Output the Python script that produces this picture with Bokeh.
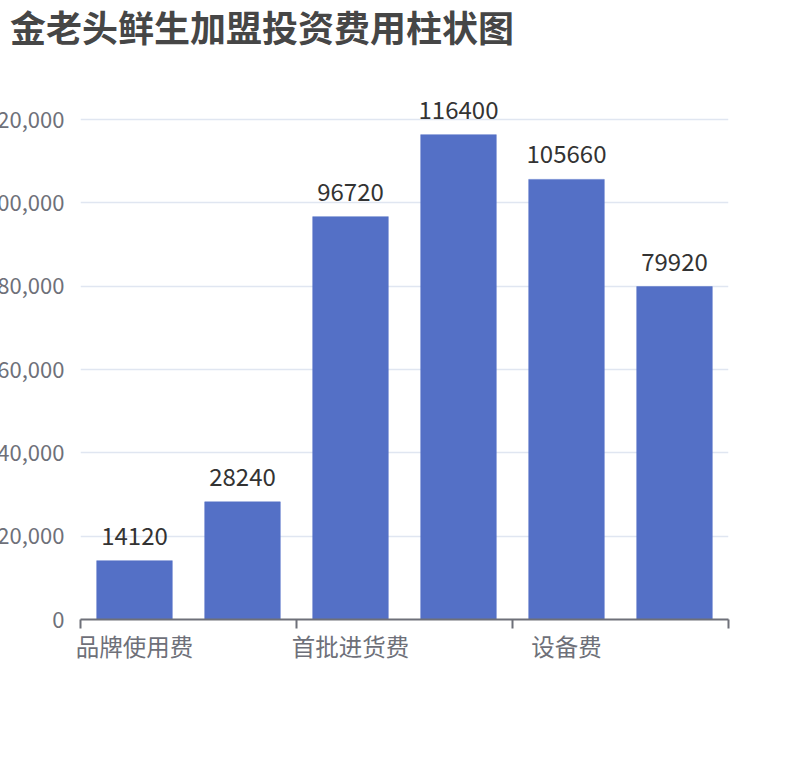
from bokeh.plotting import figure
from bokeh.models import (ColumnDataSource, FixedTicker, NumeralTickFormatter,
                          Range1d, LabelSet, Div)
from bokeh.layouts import column
from bokeh.core.properties import value
from bokeh.embed import file_html
from bokeh.resources import INLINE

title_text = "金老头鲜生加盟投资费用柱状图"
categories = ["品牌使用费", "加盟保证金", "首批进货费", "装修费", "设备费", "流动资金"]
values = [14120, 28240, 96720, 116400, 105660, 79920]
y_ticks = [0, 20000, 40000, 60000, 80000, 100000, 120000]
shown_labels = [0, 2, 4]   # categories whose label fits (the others are hidden)

FONT = "Noto Sans CJK SC"
CLIP = 30
TITLE_H = 52
Y_TOP = 127000   # frame extends a little above the last grid line so labels are not clipped

xs = [i + 0.5 for i in range(len(categories))]
src = ColumnDataSource(dict(x=xs, top=values, label=[str(v) for v in values]))

title = Div(text=title_text, width=810, height=TITLE_H, margin=(0, 0, 0, 0),
            styles={"font-family": FONT, "font-size": "36px", "font-weight": "bold",
                    "color": "#464646", "padding-left": "10px", "line-height": "normal",
                    "white-space": "nowrap"})

p = figure(width=810 + CLIP, height=760 - TITLE_H, output_backend="svg",
           toolbar_location=None,
           x_range=Range1d(0, len(categories)), y_range=Range1d(0, Y_TOP),
           min_border_left=80 + CLIP, min_border_right=82 - CLIP,
           min_border_top=90 - TITLE_H, min_border_bottom=141)
p.margin = (0, 0, 0, -CLIP)
p.outline_line_color = None
p.background_fill_color = "white"

p.vbar(x="x", top="top", width=0.7, bottom=0, source=src,
       fill_color="#5470c6", line_color="#5470c6", line_width=0.5)

labels = LabelSet(x="x", y="top", text="label", source=src, text_align="center",
                  text_baseline="bottom", y_offset=16, text_font_size="24px",
                  text_color="#333333", text_font=value(FONT))
p.add_layout(labels)

# y axis
p.yaxis.ticker = FixedTicker(ticks=y_ticks)
p.yaxis.formatter = NumeralTickFormatter(format="0,0")
p.yaxis.axis_line_color = None
p.yaxis.major_tick_line_color = None
p.yaxis.major_tick_out = 0
p.yaxis.major_tick_in = 0
p.yaxis.minor_tick_line_color = None
p.yaxis.major_label_standoff = 16
p.yaxis.major_label_text_font_size = "22px"
p.yaxis.major_label_text_color = "#6e7079"
p.yaxis.major_label_text_font = FONT

# x axis: labels at category centres, ticks at every second boundary
p.xaxis.ticker = FixedTicker(ticks=[xs[i] for i in shown_labels],
                             minor_ticks=[0, 2, 4, 6])
p.xaxis.major_label_overrides = {xs[i]: categories[i] for i in shown_labels}
p.xaxis.major_tick_line_color = None
p.xaxis.major_tick_out = 0
p.xaxis.major_tick_in = 0
p.xaxis.minor_tick_line_color = "#6e7079"
p.xaxis.minor_tick_line_width = 2
p.xaxis.minor_tick_out = 9
p.xaxis.minor_tick_in = 0
p.xaxis.axis_line_color = "#6e7079"
p.xaxis.axis_line_width = 2
p.xaxis.major_label_standoff = 0
p.xaxis.major_label_text_font_size = "23.5px"
p.xaxis.major_label_text_color = "#6e7079"
p.xaxis.major_label_text_font = FONT

p.xgrid.grid_line_color = None
p.ygrid.ticker = FixedTicker(ticks=y_ticks)
p.ygrid.grid_line_color = "#e0e6f1"
p.ygrid.grid_line_width = 1.5

layout = column(title, p, spacing=0)
open("out.html", "w").write(file_html(layout, INLINE))
